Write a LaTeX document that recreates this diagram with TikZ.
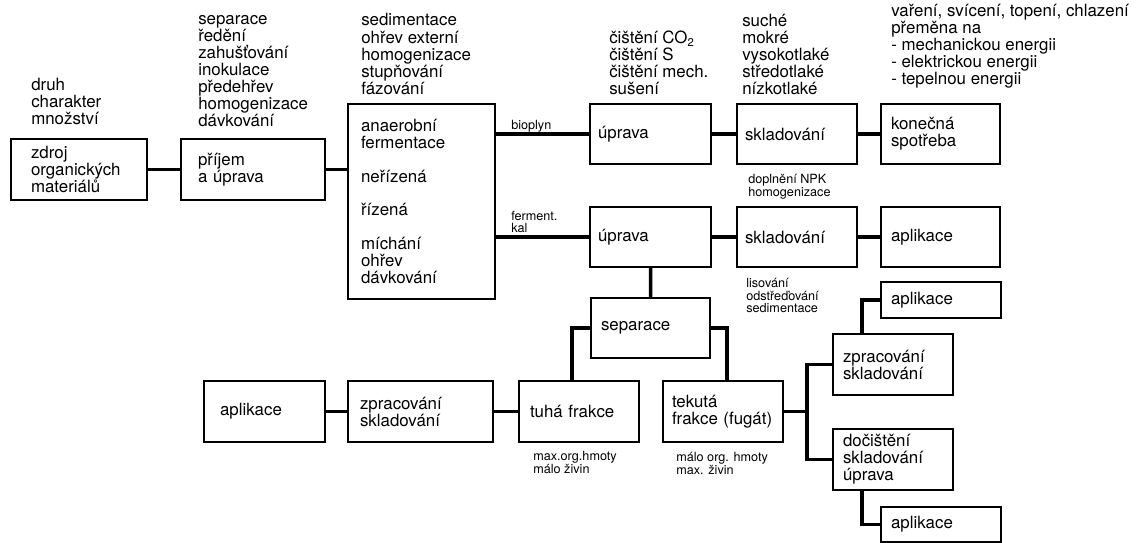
\documentclass[tikz,border=0pt]{standalone}
\usepackage{fontspec}
\setmainfont{TeX Gyre Heros}

\tikzset{
	box/.style={draw, line width=1pt, anchor=north west, outer sep=0pt, inner ysep=0pt,
		align=left, minimum width=3cm, minimum height=1.5cm, text width=2.5cm, inner xsep=0.25cm,
		font=\fontsize{12}{12.1}\selectfont},
	note/.style={anchor=west, inner sep=0pt, align=left, font=\fontsize{12}{12.1}\selectfont},
	small/.style={anchor=west, inner sep=0pt, align=left, font=\fontsize{9}{9}\selectfont},
	link/.style={line width=2.5pt}
}

\begin{document}
\begin{tikzpicture}[x=0.025cm,y=-0.025cm]
\useasboundingbox (0,0) rectangle (1140,543);    %画布

\node[box, minimum width=3.4cm, minimum height=1.525cm, text width=2.4cm, inner xsep=0.5cm] (zdroj) at (11,139) {zdroj\\organických\\materiálů};
\node[box, minimum width=3.6cm, minimum height=1.525cm, text width=2.75cm, inner xsep=0.425cm] (prijem) at (181,139) {příjem\\a úprava};
\node[box, minimum width=3.675cm, minimum height=4.875cm, text width=3.025cm, inner xsep=0.325cm] (fermentace) at (348,104)
	{anaerobní\\fermentace\\[12pt]neřízená\\[12pt]řízená\\[12pt]míchání\\ohřev\\dávkování};   %左侧方框

\node[box, minimum width=3.025cm, text width=2.625cm, inner xsep=0.2cm] (uprava1) at (590,104) {úprava};
\node[box, text width=2.6cm, inner xsep=0.2cm] (sklad1) at (737,104) {skladování};
\node[box, minimum width=2.975cm, text width=2.475cm] (spotreba) at (881,104) {konečná\\spotřeba};
\node[box, minimum width=3.025cm, text width=2.625cm, inner xsep=0.2cm] (uprava2) at (590,207) {úprava};
\node[box, text width=2.6cm, inner xsep=0.2cm] (sklad2) at (737,207) {skladování};
\node[box, minimum width=2.975cm, text width=2.475cm] (aplikace1) at (881,207) {aplikace};   %上两行

\node[box, minimum width=2.975cm, text width=2.475cm] (separace) at (591,298) {separace};
\node[box, minimum height=1.525cm, text width=2.45cm, inner xsep=0.275cm] (tuha) at (519,381) {tuhá frakce};
\node[box, minimum height=1.525cm, text width=2.55cm, inner xsep=0.225cm] (tekuta) at (663,381) {tekutá\\frakce (fugát)};
\node[box, minimum width=3.625cm, minimum height=1.525cm, text width=3.025cm, inner xsep=0.3cm] (zprac1) at (348,381) {zpracování\\skladování};
\node[box, minimum width=3.025cm, minimum height=1.525cm, text width=2.225cm, inner xsep=0.4cm] (aplikace0) at (204,381) {aplikace};
\node[box, minimum height=1.525cm] (zprac2) at (833,334) {zpracování\\skladování};
\node[box, minimum height=1.525cm] (docisteni) at (833,429) {dočištění\\skladování\\úprava};
\node[box, minimum height=0.9cm] (aplikace2) at (881,282) {aplikace};
\node[box, minimum height=0.875cm] (aplikace3) at (881,507) {aplikace};   %下部方框

\draw[link] (zdroj.east) -- (prijem.west);
\draw[link] (prijem.east) -- (prijem.east -| fermentace.west);
\draw[link] (uprava1.west -| fermentace.east) -- (uprava1.west);
\draw[link] (uprava2.west -| fermentace.east) -- (uprava2.west);
\draw[link] (uprava1.east) -- (sklad1.west);
\draw[link] (sklad1.east) -- (spotreba.west);
\draw[link] (uprava2.east) -- (sklad2.west);
\draw[link] (sklad2.east) -- (aplikace1.west);
\draw[link] (uprava2.south) -- (separace.north);
\draw[link] (separace.west) -| ([xshift=-5pt]tuha.north);
\draw[link] (separace.east) -| ([xshift=3pt]tekuta.north);
\draw[link] (tuha.west) -- (zprac1.east);
\draw[link] (zprac1.west) -- (aplikace0.east);
\coordinate[xshift=17pt] (rozcesti) at (tekuta.east);
\draw[link] (tekuta.east) -- (rozcesti);
\draw[link] (zprac2.west) -| (rozcesti) |- (docisteni.west);
\draw[link] ([xshift=20.6pt]zprac2.north west) |- (aplikace2.west);
\draw[link] ([xshift=20.6pt]docisteni.south west) |- (aplikace3.west);   %连线

\node[note] (vlastnosti) at (31,101.5) {druh\\charakter\\množství};
\node[note] (predprava) at (198,71) {separace\\ředění\\zahušťování\\inokulace\\předehřev\\homogenizace\\dávkování};
\node[note] (rizeni) at (361,54) {sedimentace\\ohřev externí\\homogenizace\\stupňování\\fázování};
\node[note] (cisteni) at (609,63) {čištění CO\textsubscript{2}\\čištění S\\čištění mech.\\sušení};
\node[note] (zasobniky) at (742,54.5) {suché\\mokré\\vysokotlaké\\středotlaké\\nízkotlaké};
\node[note] (vyuziti) at (891,46.5) {vaření, svícení, topení, chlazení\\přeměna na\\- mechanickou energii\\- elektrickou energii\\- tepelnou energii};   %上方说明

\node[small] (bioplyn) at (511,126) {bioplyn};
\node[small] (kal) at (511,222) {ferment.\\kal};
\node[small] (npk) at (748,187) {doplnění NPK\\homogenizace};
\node[small] (lisovani) at (746,295.5) {lisování\\odstřeďování\\sedimentace};
\node[small] (tuhavl) at (533,462.5) {max.org.hmoty\\málo živin};
\node[small] (tekutavl) at (676,463.5) {málo org. hmoty\\max. živin};   %小字
\end{tikzpicture}
\end{document}
